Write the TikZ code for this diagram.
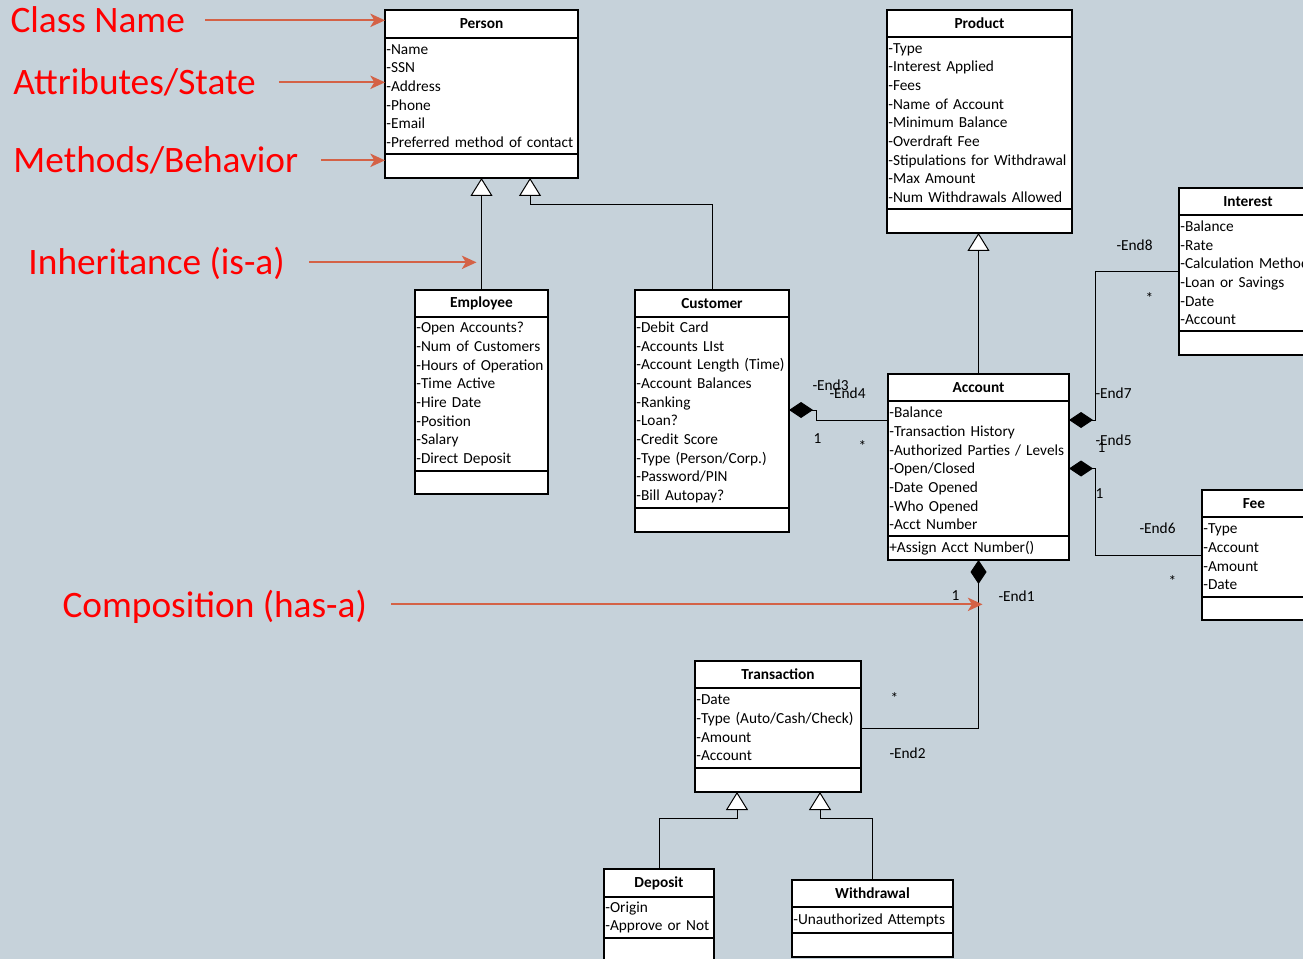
\documentclass[tikz,border=0pt]{standalone}
\usepackage{fontspec}
\setmainfont{Carlito}
\usetikzlibrary{arrows.meta}

\definecolor{canvas}{RGB}{198,210,218}
\definecolor{pointred}{RGB}{212,98,70}

\tikzset{every picture/.style={line width=0.75pt}}
\tikzset{
  wd/.style={minimum width=#1*0.75pt, text width=#1*0.75pt-2pt},
  ht/.style={minimum height=#1*0.75pt},
  clshead/.style={draw, line width=1pt, fill=white, anchor=north west, outer sep=0pt, inner xsep=1pt, inner ysep=0pt, align=center, font=\fontsize{11.5}{14}\selectfont\bfseries},
  clsbody/.style={draw, line width=1pt, fill=white, anchor=north west, outer sep=0pt, inner xsep=1pt, inner ysep=0pt, align=left, font=\fontsize{11.5}{14}\selectfont},
  endlbl/.style={anchor=west, inner sep=0pt, font=\fontsize{11.5}{14}\selectfont},
  note/.style={anchor=base west, inner sep=0pt, text=red, text height=19pt, text depth=0pt, font=\fontsize{28}{30}\selectfont},
  pointer/.style={draw=pointred, line width=1.5pt, -{Stealth[length=11pt, width=10pt, inset=3pt]}},
  isa/.style={-{Triangle[open, fill=white, length=13.5pt, width=16.5pt]}},
  has/.style={-{Diamond[length=18pt, width=12pt]}},
}

\begin{document}
\begin{tikzpicture}[x=0.75pt,y=0.75pt,yscale=-1,xscale=1]
\fill[canvas] (0,0) rectangle (1303,959);
\useasboundingbox (0,0) rectangle (1303,959);
\clip (0,0) rectangle (1303,959);

%Class: Person
\node[clshead, wd=193, ht=28] (person) at (385,10) {Person};
\node[clsbody, wd=193, ht=116] (person-a) at (person.south west) {-Name\\-SSN\\-Address\\-Phone\\-Email\\-Preferred method of contact};
\node[clsbody, wd=193, ht=24] (person-m) at (person-a.south west) {};
%Class: Employee
\node[clshead, wd=133, ht=27] (employee) at (415,290) {Employee};
\node[clsbody, wd=133, ht=154] (employee-a) at (employee.south west) {-Open Accounts?\\-Num of Customers\\-Hours of Operation\\-Time Active\\-Hire Date\\-Position\\-Salary\\-Direct Deposit};
\node[clsbody, wd=133, ht=23] (employee-m) at (employee-a.south west) {};
%Class: Customer
\node[clshead, wd=154, ht=27] (customer) at (635,290) {Customer};
\node[clsbody, wd=154, ht=191] (customer-a) at (customer.south west) {-Debit Card\\-Accounts LIst\\-Account Length (Time)\\-Account Balances\\-Ranking\\-Loan?\\-Credit Score\\-Type (Person/Corp.)\\-Password/PIN\\-Bill Autopay?};
\node[clsbody, wd=154, ht=24] (customer-m) at (customer-a.south west) {};
%Class: Product
\node[clshead, wd=185, ht=27] (product) at (887,10) {Product};
\node[clsbody, wd=185, ht=172] (product-a) at (product.south west) {-Type\\-Interest Applied\\-Fees\\-Name of Account\\-Minimum Balance\\-Overdraft Fee\\-Stipulations for Withdrawal\\-Max Amount\\-Num Withdrawals Allowed};
\node[clsbody, wd=185, ht=24] (product-m) at (product-a.south west) {};
%Class: Interest
\node[clshead, wd=138, ht=27] (interest) at (1179,188) {Interest};
\node[clsbody, wd=138, ht=116] (interest-a) at (interest.south west) {-Balance\\-Rate\\-Calculation Method\\-Loan or Savings\\-Date\\-Account};
\node[clsbody, wd=138, ht=24] (interest-m) at (interest-a.south west) {};
%Class: Account
\node[clshead, wd=181, ht=27] (account) at (888,374) {Account};
\node[clsbody, wd=181, ht=135] (account-a) at (account.south west) {-Balance\\-Transaction History\\-Authorized Parties / Levels\\-Open/Closed\\-Date Opened\\-Who Opened\\-Acct Number};
\node[clsbody, wd=181, ht=24] (account-m) at (account-a.south west) {+Assign Acct Number()};
%Class: Fee
\node[clshead, wd=104, ht=27] (fee) at (1202,490) {Fee};
\node[clsbody, wd=104, ht=80] (fee-a) at (fee.south west) {-Type\\-Account\\-Amount\\-Date};
\node[clsbody, wd=104, ht=23] (fee-m) at (fee-a.south west) {};
%Class: Transaction
\node[clshead, wd=166, ht=27] (transaction) at (695,661) {Transaction};
\node[clsbody, wd=166, ht=80] (transaction-a) at (transaction.south west) {-Date\\-Type (Auto/Cash/Check)\\-Amount\\-Account};
\node[clsbody, wd=166, ht=24] (transaction-m) at (transaction-a.south west) {};
%Class: Deposit
\node[clshead, wd=110, ht=28] (deposit) at (604,869) {Deposit};
\node[clsbody, wd=110, ht=41] (deposit-a) at (deposit.south west) {-Origin\\-Approve or Not};
\node[clsbody, wd=110, ht=24] (deposit-m) at (deposit-a.south west) {};
%Class: Withdrawal
\node[clshead, wd=161, ht=27] (withdrawal) at (792,880) {Withdrawal};
\node[clsbody, wd=161, ht=26] (withdrawal-a) at (withdrawal.south west) {-Unauthorized Attempts};
\node[clsbody, wd=161, ht=24] (withdrawal-m) at (withdrawal-a.south west) {};

%Inheritance
\draw[isa] (employee.north) -- (employee.north |- person-m.south);
\draw[isa] (customer.north) -- ++(0,-85) -| ([xshift=36.4pt]person-m.south);
\draw[isa] (account.north) -- (account.north |- product-m.south);
\draw[isa] (deposit.north) -- ++(0,-51) -| ([xshift=-30.75pt]transaction-m.south);
\draw[isa] (withdrawal.north) -- ++(0,-62) -| ([xshift=31.5pt]transaction-m.south);

%Composition
\draw[has] (account-a.west |- 0,420) -- ++(-72,0) |- (customer-a.east |- 0,410);
\draw[has] (interest-a.west |- 0,272) -- ++(-84,0) |- (account-a.east |- 0,420);
\draw[has] (fee-a.west |- 0,555) -- ++(-107,0) |- (account-a.east);
\draw[has] (transaction-a.east) -| (account-m.south);

% Role and multiplicity labels
\node[endlbl] (end3) at (812,385) {-End3};
\node[endlbl] (end4) at (829,393) {-End4};
\node[endlbl] (mult3) at (813,439) {1};
\node[endlbl] (mult4) at (858,446) {*};
\node[endlbl] (end7) at (1095,393) {-End7};
\node[endlbl] (end5) at (1095,440) {-End5};
\node[endlbl] (mult7) at (1097,448) {1};
\node[endlbl] (mult5) at (1095,494) {1};
\node[endlbl] (end8) at (1116,245) {-End8};
\node[endlbl] (mult8) at (1145,298) {*};
\node[endlbl] (end6) at (1139,528) {-End6};
\node[endlbl] (mult6) at (1168,581) {*};
\node[endlbl] (mult1) at (951,596) {1};
\node[endlbl] (end1) at (998,596) {-End1};
\node[endlbl] (mult2) at (890,698) {*};
\node[endlbl] (end2) at (889,753) {-End2};

% Annotations
\node[note] (clsname) at (10,33) {Class Name};
\node[note] (attrstate) at (13,95) {Attributes/State};
\node[note] (methbeh) at (13,173) {Methods/Behavior};
\node[note] (inherit) at (28,275) {Inheritance (is-a)};
\node[note] (compo) at (62,617) {Composition (has-a)};
\draw[pointer] ([xshift=15pt]clsname.east) -- (clsname.east -| person.west);
\draw[pointer] ([xshift=17pt]attrstate.east) -- (attrstate.east -| person-a.west);
\draw[pointer] ([xshift=17pt]methbeh.east) -- (methbeh.east -| person-m.west);
\draw[pointer, shorten >=3.75pt] ([xshift=18pt]inherit.east) -- (inherit.east -| employee.north);
\draw[pointer, shorten >=-3pt] ([xshift=18pt]compo.east) -- (compo.east -| account-m.south);

\end{tikzpicture}
\end{document}
